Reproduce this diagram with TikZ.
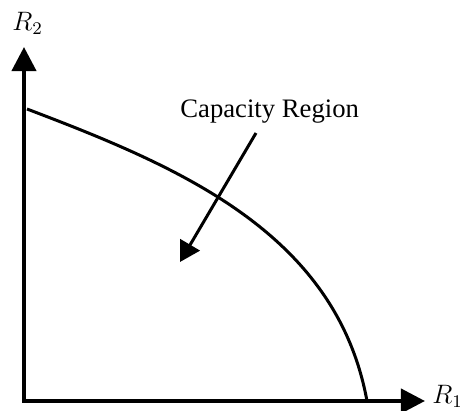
\documentclass[tikz,border=0pt]{standalone}
\usepackage{fontspec}
\setmainfont{Liberation Serif}
\usetikzlibrary{arrows.meta}

\begin{document}
\begin{tikzpicture}[
  x=0.45pt,y=-0.45pt,
  axis/.style={line width=1.8pt,{Triangle[length=10.8pt,width=10.8pt]}-{Triangle[length=10.8pt,width=10.8pt]}},
  bound/.style={line width=1.35pt},
  pointer/.style={line width=1.35pt,-{Triangle[length=9pt,width=10pt]}},
  lbl/.style={font=\fontsize{12}{14}\selectfont,inner sep=0pt}
]
\useasboundingbox (0,0) rectangle (460,411);
% axes
\coordinate (o) at (24,401);
\coordinate (ytop) at (24,47);
\coordinate (xend) at (425,401);
\draw[axis] (ytop) -- (o) -- (xend);
\node[lbl,anchor=base west] (r2) at (12,30) {$R_2$};
\node[lbl,anchor=base west] (r1) at (432,403) {$R_1$};
% boundary of the region
\coordinate (c0) at (27,109);
\coordinate (c1) at (367,401);
\draw[bound] (c0) .. controls (177,166) and (336,232) .. (c1);
% label and pointer
\node[lbl,anchor=base west] (cap) at (180,117) {Capacity Region};
\coordinate (ptail) at (256,133);
\coordinate (phead) at (180,262);
\draw[pointer] (ptail) -- (phead);
\end{tikzpicture}
\end{document}
